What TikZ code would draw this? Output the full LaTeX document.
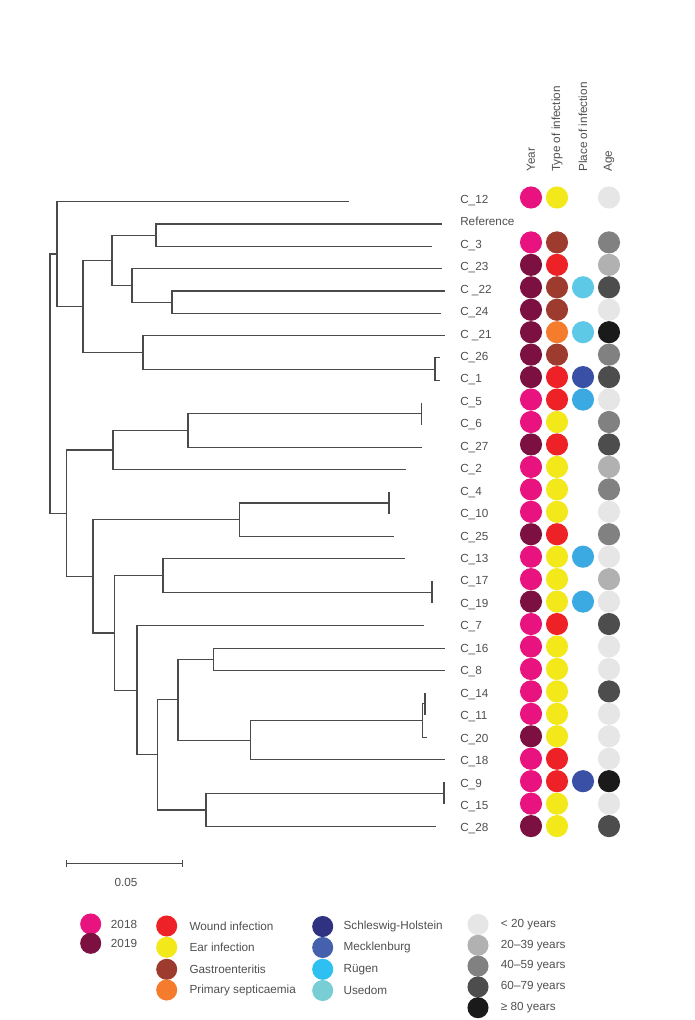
\documentclass[tikz,border=0pt]{standalone}
\usepackage{fontspec}
\setmainfont{Liberation Sans}
\definecolor{txt}{HTML}{505050}
\definecolor{branchc}{HTML}{4A4A4A}
\definecolor{y18}{HTML}{E9137F}
\definecolor{y19}{HTML}{7C1141}
\definecolor{wound}{HTML}{EE2226}
\definecolor{ear}{HTML}{F2E81A}
\definecolor{gastro}{HTML}{9C3B2E}
\definecolor{septic}{HTML}{F47C2C}
\definecolor{sh}{HTML}{2F3181}
\definecolor{meck}{HTML}{4561AE}
\definecolor{ruegen}{HTML}{2DC0F0}
\definecolor{usedom}{HTML}{79CDD5}
\definecolor{pmeck}{HTML}{3A50A6}
\definecolor{pruegen}{HTML}{3BAAE2}
\definecolor{pcyan}{HTML}{5DC9E6}
\definecolor{a1}{HTML}{E6E6E6}
\definecolor{a2}{HTML}{B1B1B1}
\definecolor{a3}{HTML}{818181}
\definecolor{a4}{HTML}{4D4D4D}
\definecolor{a5}{HTML}{1A1A1A}
\tikzset{
  branch/.style={draw=branchc, line width=0.8pt},
  lab/.style={anchor=base west, inner sep=0pt, text=txt, font=\fontsize{8.8}{10}\selectfont},
  head/.style={rotate=90, anchor=west, inner sep=0pt, text=txt, font=\fontsize{8.8}{10}\selectfont},
  dot/.style={circle, draw=none, minimum size=16.6pt, inner sep=0pt},
  ldot/.style={circle, draw=none, minimum size=15.8pt, inner sep=0pt},
  ltext/.style={anchor=west, inner sep=0pt, text=txt, font=\fontsize{8.8}{10}\selectfont},
}
\newcommand\clade[3]{\draw[branch] (#2) -| (#1) |- (#3);}
\begin{document}
\begin{tikzpicture}[x=0.75pt,y=-0.75pt]
\useasboundingbox[fill=white] (0,0) rectangle (695,1020);

% column headers
\node[head] (hyear) at (531,172) {Year};
\node[head] (htype) at (557,172) {Type of infection};
\node[head] (hplace) at (583,172) {Place of infection};
\node[head] (hage) at (609,172) {Age};

% tips
\foreach \i/\x in {0/349,1/442,2/432,3/442,4/445,5/441,6/445,7/440,8/440,9/421.7,10/421.7,11/421.7,12/406,13/389,14/389,15/394,16/405,17/432,18/432,19/424,20/445,21/445,22/425,23/425,24/426.5,25/445,26/444,27/444,28/436}
  \coordinate (t\i) at (\x,{201.7+22.32*\i});

% internal nodes
\coordinate (nH) at (435,369.1);
\coordinate (nG) at (143,352.4);
\coordinate (nF) at (172,302.2);
\coordinate (nE) at (132,285.4);
\coordinate (nD) at (156,235.2);
\coordinate (nC) at (112,260.3);
\coordinate (nB) at (83,306.3);
\coordinate (nA) at (57,254.0);
\coordinate (nL) at (421.7,413.7);
\coordinate (nK) at (188,430.5);
\coordinate (nJ) at (113,450.0);
\coordinate (nNN) at (389,503.0);
\coordinate (nN) at (239.3,519.8);
\coordinate (nPP) at (432,592.3);
\coordinate (nP) at (163,575.6);
\coordinate (nT) at (213.3,659.3);
\coordinate (nW) at (425,703.9);
\coordinate (nV) at (422.3,720.7);
\coordinate (nU) at (250.7,740.2);
\coordinate (nS) at (178,699.8);
\coordinate (nXX) at (444,793.2);
\coordinate (nX) at (206,810.0);
\coordinate (nR) at (157.3,754.9);
\coordinate (nQ) at (137,690.3);
\coordinate (nO) at (114.7,633.0);
\coordinate (nM) at (93,576.4);
\coordinate (nI) at (66.7,513.2);
\coordinate (nRoot) at (50,383.6);

\clade{nH}{t7}{t8}
\clade{nG}{t6}{nH}
\clade{nF}{t4}{t5}
\clade{nE}{t3}{nF}
\clade{nD}{t1}{t2}
\clade{nC}{nD}{nE}
\clade{nB}{nC}{nG}
\clade{nA}{t0}{nB}
\clade{nL}{t9}{t10}
\clade{nK}{nL}{t11}
\clade{nJ}{nK}{t12}
\clade{nNN}{t13}{t14}
\clade{nN}{nNN}{t15}
\clade{nPP}{t17}{t18}
\clade{nP}{t16}{nPP}
\clade{nT}{t20}{t21}
\clade{nW}{t22}{t23}
\clade{nV}{nW}{t24}
\clade{nU}{nV}{t25}
\clade{nS}{nT}{nU}
\clade{nXX}{t26}{t27}
\clade{nX}{nXX}{t28}
\clade{nR}{nS}{nX}
\clade{nQ}{t19}{nR}
\clade{nO}{nP}{nQ}
\clade{nM}{nN}{nO}
\clade{nI}{nJ}{nM}
\clade{nRoot}{nA}{nI}

% labels and metadata circles
\foreach \i/\nm/\yr/\ty/\pl/\ag in {
 0/C\_12/y18/ear/none/a1,
 1/Reference/none/none/none/none,
 2/C\_3/y18/gastro/none/a3,
 3/C\_23/y19/wound/none/a2,
 4/C \_22/y19/gastro/pcyan/a4,
 5/C\_24/y19/gastro/none/a1,
 6/C \_21/y19/septic/pcyan/a5,
 7/C\_26/y19/gastro/none/a3,
 8/C\_1/y19/wound/pmeck/a4,
 9/C\_5/y18/wound/pruegen/a1,
 10/C\_6/y18/ear/none/a3,
 11/C\_27/y19/wound/none/a4,
 12/C\_2/y18/ear/none/a2,
 13/C\_4/y18/ear/none/a3,
 14/C\_10/y18/ear/none/a1,
 15/C\_25/y19/wound/none/a3,
 16/C\_13/y18/ear/pruegen/a1,
 17/C\_17/y18/ear/none/a2,
 18/C\_19/y19/ear/pruegen/a1,
 19/C\_7/y18/wound/none/a4,
 20/C\_16/y18/ear/none/a1,
 21/C\_8/y18/ear/none/a1,
 22/C\_14/y18/ear/none/a4,
 23/C\_11/y18/ear/none/a1,
 24/C\_20/y19/ear/none/a1,
 25/C\_18/y18/wound/none/a1,
 26/C\_9/y18/wound/pmeck/a5,
 27/C\_15/y18/ear/none/a1,
 28/C\_28/y19/ear/none/a4}
{
  \node[lab] (lab\i) at (460,{197.5+22.45*\i+5.8}) {\nm};
  \node[dot, fill=\yr] (cy\i) at (531,{197.5+22.45*\i}) {};
  \node[dot, fill=\ty] (ct\i) at (557,{197.5+22.45*\i}) {};
  \node[dot, fill=\pl] (cp\i) at (583,{197.5+22.45*\i}) {};
  \node[dot, fill=\ag] (ca\i) at (609,{197.5+22.45*\i}) {};
}

% scale bar
\coordinate (sbl) at (66.7,863.3);
\coordinate (sbr) at (182.7,863.3);
\draw[branch] (sbl) -- (sbr);
\draw[branch] ([yshift=-2.7pt]sbl) -- ([yshift=2.7pt]sbl);
\draw[branch] ([yshift=-2.7pt]sbr) -- ([yshift=2.7pt]sbr);
\node[text=txt, font=\fontsize{8.8}{10}\selectfont, inner sep=0pt] (sbt) at (126,882) {0.05};

% legend: year
\node[ldot, fill=y18] (ly1) at (90.7,924) {};
\node[ldot, fill=y19] (ly2) at (90.7,943.3) {};
\node[ltext] (lyt1) at (110.7,924) {2018};
\node[ltext] (lyt2) at (110.7,943.3) {2019};

% legend: type
\foreach \j/\c/\y/\t in {1/wound/926/Wound infection, 2/ear/947.3/Ear infection, 3/gastro/969.3/Gastroenteritis, 4/septic/990/Primary septicaemia}{
  \node[ldot, fill=\c] (ltc\j) at (166.7,\y) {};
  \node[ltext] (ltt\j) at (189.3,\y) {\t};
}
% legend: place
\foreach \j/\c/\y/\t in {1/sh/926.5/Schleswig-Holstein, 2/meck/947.5/Mecklenburg, 3/ruegen/969.3/Rügen, 4/usedom/990.5/Usedom}{
  \node[ldot, fill=\c] (lpc\j) at (322.7,\y) {};
  \node[ltext] (lpt\j) at (343.3,\y) {\t};
}
% legend: age
\foreach \j/\c/\y/\t in {1/a1/924.5/{< 20 years}, 2/a2/945.3/{20–39 years}, 3/a3/966.1/{40–59 years}, 4/a4/986.9/{60–79 years}, 5/a5/1007.7/{≥ 80 years}}{
  \node[ldot, fill=\c] (lac\j) at (478,\y) {};
  \node[ltext] (lat\j) at (500.7,\y) {\t};
}
\end{tikzpicture}
\end{document}
